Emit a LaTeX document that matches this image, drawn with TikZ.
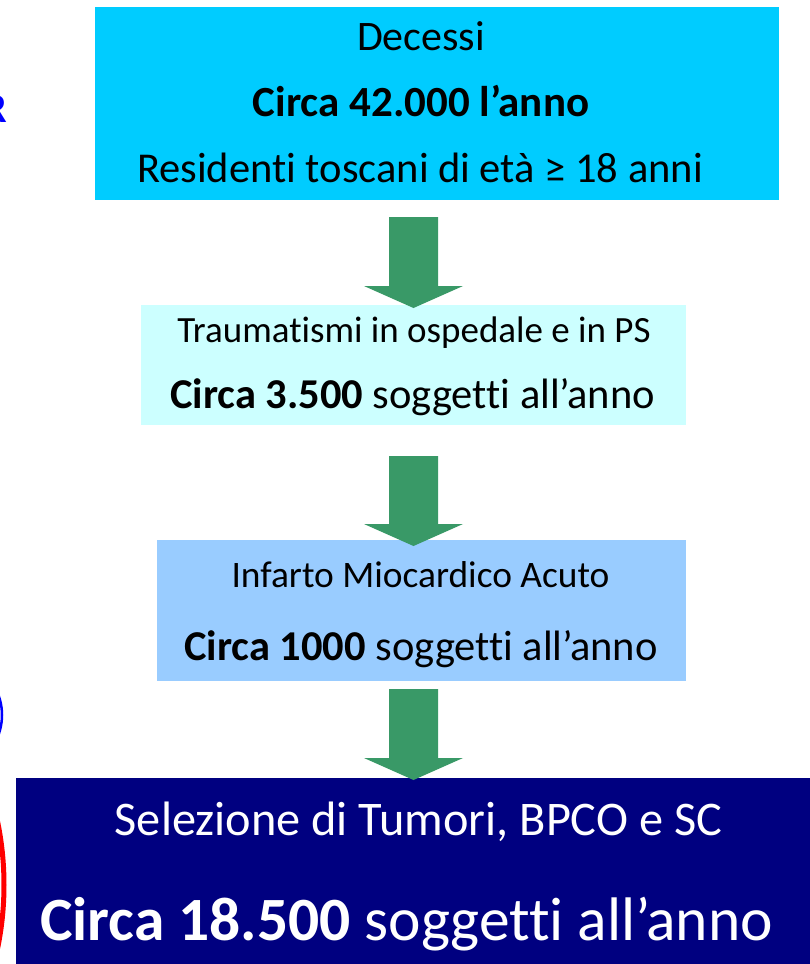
\documentclass[tikz,border=0pt]{standalone}
\usepackage{fontspec}
\setmainfont[RawFeature={-liga;-clig;-calt;-dlig}]{Carlito}
\definecolor{boxA}{HTML}{00CCFF}
\definecolor{boxB}{HTML}{CCFFFF}
\definecolor{boxC}{HTML}{99CCFF}
\definecolor{boxD}{HTML}{000080}
\definecolor{arrowgreen}{HTML}{399967}
\definecolor{sideblue}{HTML}{0000FF}
\newcommand{\blockarrow}[3]{%
  \fill[arrowgreen] (389,-#1) -- (438,-#1) -- (438,-#2) -- (463,-#2) -- (413.5,-#3) -- (364,-#2) -- (389,-#2) -- cycle;}
\tikzset{
  panel/.style={inner sep=0pt, outer sep=0pt, draw=none},
  txt/.style={inner sep=0pt, anchor=base},
}
\begin{document}
\begin{tikzpicture}[x=1pt,y=1pt]
\useasboundingbox (0,0) rectangle (810,-964);
% side marks (partially outside)
\node[txt, anchor=base east, text=sideblue, font=\fontsize{42}{50}\selectfont\bfseries] (sideR) at (7.5,-122) {R};
\draw[sideblue, line width=2.5pt] (-100,-715) ellipse [x radius=102, y radius=76];
\draw[red, line width=5pt] (-150,-885) ellipse [x radius=154, y radius=221];
% boxes
\fill[boxA] (95,-7) rectangle (779,-200);
\node[panel] (b1) at (437,-103.5) {};
\fill[boxB] (141,-305) rectangle (686,-425);
\node[panel] (b2) at (413.5,-365) {};
\fill[boxC] (157,-540) rectangle (686,-681);
\node[panel] (b3) at (421.5,-610.5) {};
\fill[boxD] (16,-778) rectangle (810,-964);
\node[panel] (b4) at (413,-871) {};
% texts
\node[txt, font=\fontsize{42}{50}\selectfont] (t1a) at (421,-50) {Decessi};
\node[txt, font=\fontsize{43}{50}\selectfont\bfseries] (t1b) at (421,-116) {Circa 42.000 l’anno};
\node[txt, font=\fontsize{42.5}{50}\selectfont] (t1c) at (420,-182) {Residenti toscani di età ≥ 18 anni};
\node[txt, font=\fontsize{37}{44}\selectfont] (t2a) at (414,-342) {Traumatismi in ospedale e in PS};
\node[txt, font=\fontsize{42.5}{50}\selectfont] (t2b) at (412.5,-408) {\textbf{Circa 3.500} soggetti all’anno};
\node[txt, font=\fontsize{37.4}{44}\selectfont] (t3a) at (420.5,-587) {Infarto Miocardico Acuto};
\node[txt, font=\fontsize{42.5}{50}\selectfont] (t3b) at (421,-660) {\textbf{Circa 1000} soggetti all’anno};
\node[txt, text=white, font=\fontsize{48.3}{57}\selectfont] (t4a) at (418.5,-835) {Selezione di Tumori, BPCO e SC};
\node[txt, text=white, font=\fontsize{61.5}{72}\selectfont] (t4b) at (406.5,-940) {\textbf{Circa 18.500} soggetti all’anno};
% block arrows
\blockarrow{217}{286}{308}
\blockarrow{456}{524}{546}
\blockarrow{689}{758}{780}
\end{tikzpicture}
\end{document}
